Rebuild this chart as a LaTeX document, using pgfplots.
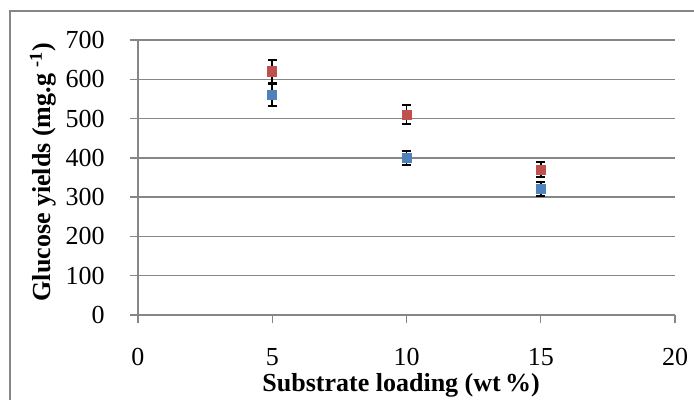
\documentclass[border=0pt]{standalone}
\usepackage{pgfplots}
\pgfplotsset{compat=1.18}
\usepackage{fontspec}
\setmainfont{Liberation Serif}
\definecolor{exred}{RGB}{192,80,77}
\definecolor{exblue}{RGB}{79,129,189}
\definecolor{exgrid}{RGB}{134,134,134}
\begin{document}
\begin{tikzpicture}
\begin{axis}[
  at={(0,0)}, anchor=south west,
  scale only axis, width=268.5pt, height=137.5pt,
  xmin=0, xmax=20, ymin=0, ymax=700,
  xtick={0,5,...,20}, ytick={0,100,...,700},
  axis x line*=bottom, axis y line*=left,
  axis line style={exgrid, line width=0.7pt, -},
  tick style={exgrid, line width=0.7pt},
  tick align=outside, major tick length=4pt,
  ymajorgrids, grid style={exgrid, line width=0.7pt},
  tick label style={font=\fontsize{13}{15}\selectfont},
  label style={font=\fontsize{13}{15}\selectfont\bfseries},
  /pgf/number format/assume math mode=true,
  xticklabel style={anchor=center, yshift=-17pt},
  yticklabel style={anchor=east, inner sep=0pt, xshift=-12.5pt},
  xlabel={Substrate loading (wt\,\%)},
  ylabel={Glucose yields (mg.g \textsuperscript{-1})},
  xlabel style={at={([yshift=-38pt]axis description cs:0.49,0)}, anchor=base},
  ylabel style={at={([xshift=-47.5pt]axis description cs:0,0.52)}, anchor=center},
  clip=false,
]
% red series
\addplot[only marks, mark=square*, mark size=2.3pt, color=exred,
  error bars/.cd, y dir=both, y explicit,
  error bar style={black, line width=0.9pt},
  error mark options={black, rotate=90, mark size=2.2pt, line width=0.9pt}]
  table[x=x, y=y, y error=e] {
x  y   e
5  620 30
10 510 24
15 370 19
};
% blue series
\addplot[only marks, mark=square*, mark size=2.3pt, color=exblue,
  error bars/.cd, y dir=both, y explicit,
  error bar style={black, line width=0.9pt},
  error mark options={black, rotate=90, mark size=2.2pt, line width=0.9pt}]
  table[x=x, y=y, y error=e] {
x  y   e
5  560 28
10 400 18
15 320 18
};
\end{axis}
\draw[exgrid, line width=0.6pt] (-64pt,-60pt) rectangle (300pt,152pt);
\pgfresetboundingbox
\path[use as bounding box] (-69pt,-42.5pt) rectangle (278pt,157.5pt);
\end{tikzpicture}
\end{document}
